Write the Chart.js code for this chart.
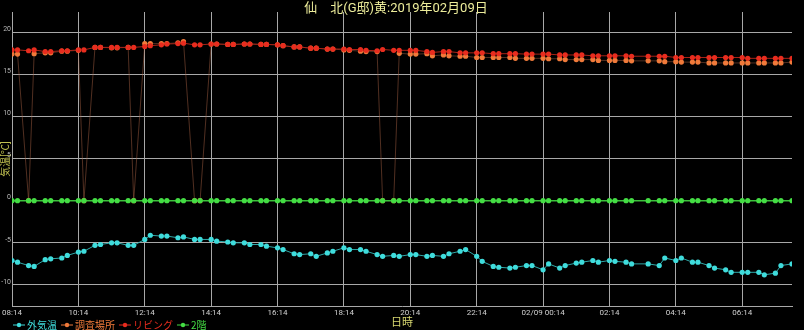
<!DOCTYPE html>
<html>
<head>
<meta charset="utf-8">
<script src="https://cdn.jsdelivr.net/npm/chart.js@4/dist/chart.umd.min.js"></script>
<style>
    html, body { margin: 0; padding: 0; background: #000; }
    #wrap { width: 804px; height: 330px; }
</style>
</head>
<body>
<div id="wrap"><canvas id="tempChart"></canvas></div>
<script>
// Measurement times (03:14 has no record)
const times = [
    '08:14','08:24','08:44','08:54', '09:14','09:24','09:44','09:54',
    '10:14','10:24','10:44','10:54', '11:14','11:24','11:44','11:54',
    '12:14','12:24','12:44','12:54', '13:14','13:24','13:44','13:54',
    '14:14','14:24','14:44','14:54', '15:14','15:24','15:44','15:54',
    '16:14','16:24','16:44','16:54', '17:14','17:24','17:44','17:54',
    '18:14','18:24','18:44','18:54', '19:14','19:24','19:44','19:54',
    '20:14','20:24','20:44','20:54', '21:14','21:24','21:44','21:54',
    '22:14','22:24','22:44','22:54', '23:14','23:24','23:44','23:54',
    '00:14','00:24','00:44','00:54', '01:14','01:24','01:44','01:54',
    '02:14','02:24','02:44','02:54', '03:24','03:44','03:54',
    '04:14','04:24','04:44','04:54', '05:14','05:24','05:44','05:54',
    '06:14','06:24','06:44','06:54', '07:14','07:24','07:44'
];

const outsideTemp = [
    -7.1,-7.3,-7.7,-7.8, -7.0,-6.9,-6.8,-6.5,
    -6.1,-6.0,-5.3,-5.2, -5.0,-5.0,-5.3,-5.3,
    -4.6,-4.1,-4.2,-4.2, -4.4,-4.3,-4.6,-4.6,
    -4.6,-4.8,-4.9,-5.0, -5.0,-5.2,-5.2,-5.4,
    -5.6,-5.8,-6.3,-6.4, -6.3,-6.6,-6.2,-6.0,
    -5.6,-5.8,-5.8,-6.0, -6.4,-6.6,-6.5,-6.6,
    -6.4,-6.4,-6.6,-6.5, -6.6,-6.3,-6.0,-5.8,
    -6.6,-7.2,-7.8,-7.9, -8.0,-7.9,-7.7,-7.7,
    -8.2,-7.5,-8.0,-7.7, -7.4,-7.3,-7.1,-7.3,
    -7.1,-7.2,-7.3,-7.5, -7.5,-7.7,-6.8,
    -7.1,-6.8,-7.3,-7.3, -7.7,-8.0,-8.2,-8.5,
    -8.5,-8.5,-8.5,-8.8, -8.6,-7.7,-7.5
];

const surveyTemp = [
    17.4,17.4,0,17.45, 17.55,17.55,17.75,17.75,
    17.85,0,18.2,18.2, 18.15,18.15,18.2,0,
    18.65,18.65,18.65,18.65, 18.75,18.9,0,0,
    18.6,18.6,18.55,18.55, 18.6,18.6,18.55,18.55,
    18.5,18.4,18.25,18.25, 18.1,18.1,18.0,18.0,
    17.9,17.85,17.75,17.7, 17.7,0,0,17.5,
    17.4,17.4,17.45,17.2, 17.3,17.2,17.15,17.15,
    17.0,17.0,17.0,17.0, 17.0,16.9,16.9,16.9,
    16.9,16.85,16.85,16.75, 16.75,16.75,16.75,16.65,
    16.65,16.65,16.65,16.6, 16.6,16.6,16.5,
    16.5,16.45,16.45,16.45, 16.35,16.35,16.35,16.35,
    16.35,16.35,16.35,16.35, 16.35,16.35,16.45
];

const livingTemp = [
    17.9,17.9,17.8,17.9, 17.7,17.7,17.8,17.8,
    17.9,17.9,18.2,18.2, 18.2,18.2,18.2,18.2,
    18.3,18.4,18.5,18.6, 18.65,18.7,18.5,18.5,
    18.6,18.6,18.55,18.55, 18.6,18.6,18.55,18.55,
    18.5,18.4,18.25,18.25, 18.1,18.1,18.0,18.0,
    18.0,17.95,17.95,17.85, 17.8,17.95,17.85,17.85,
    17.85,17.85,17.7,17.6, 17.7,17.7,17.55,17.55,
    17.55,17.55,17.45,17.45, 17.45,17.45,17.4,17.4,
    17.4,17.4,17.3,17.3, 17.3,17.3,17.2,17.2,
    17.2,17.2,17.2,17.15, 17.15,17.15,17.15,
    17.0,17.0,17.0,17.0, 17.0,17.0,17.0,17.0,
    17.0,16.9,16.9,16.9, 16.9,16.9,16.9
];

const floor2Temp = [
    0,0,0,0, 0,0,0,0, 0,0,0,0, 0,0,0,0,
    0,0,0,0, 0,0,0,0, 0,0,0,0, 0,0,0,0,
    0,0,0,0, 0,0,0,0, 0,0,0,0, 0,0,0,0,
    0,0,0,0, 0,0,0,0, 0,0,0,0, 0,0,0,0,
    0,0,0,0, 0,0,0,0, 0,0,0,0, 0,0,0,
    0,0,0,0, 0,0,0,0, 0,0,0,0, 0,0,0
];

const xTickLabels = ['08:14','10:14','12:14','14:14','16:14','18:14','20:14','22:14','02/09 00:14','02:14','04:14','06:14'];
const yTickValues = [-10, -5, 0, 5, 10, 15, 20];

const START_MIN = 8 * 60 + 14;

// minutes since 08:14, wrapping past midnight
function toMinutes(t) {
    const [h, m] = t.split(':').map(Number);
    let mins = h * 60 + m - START_MIN;
    if (mins < 0) mins += 1440;
    return mins;
}

function toPoints(values) {
    return times.map((t, i) => ({ x: toMinutes(t), y: values[i] }));
}

const FONT = "Roboto, 'Noto Sans CJK JP', sans-serif";
const GRID = '#a8a8a8';

// legend drawn on the bottom line, next to the axis title
const bottomLegend = {
    id: 'bottomLegend',
    afterDraw(chart) {
        const ctx = chart.ctx;
        ctx.save();
        ctx.font = "10px 'Noto Sans CJK JP', sans-serif";
        ctx.textBaseline = 'middle';
        let x = 13;
        const y = 325;
        chart.data.datasets.forEach(ds => {
            ctx.strokeStyle = ds.pointBackgroundColor;
            ctx.lineWidth = 1;
            ctx.beginPath();
            ctx.moveTo(x, y);
            ctx.lineTo(x + 12, y);
            ctx.stroke();
            ctx.fillStyle = ds.pointBackgroundColor;
            ctx.beginPath();
            ctx.arc(x + 6, y, 2.2, 0, Math.PI * 2);
            ctx.fill();
            x += 14;
            ctx.fillText(ds.label, x, y);
            x += ctx.measureText(ds.label).width + 4;
        });
        ctx.restore();
    }
};

document.addEventListener('DOMContentLoaded', function() {
    const ctx = document.getElementById('tempChart').getContext('2d');
    new Chart(ctx, {
        type: 'line',
        data: {
            datasets: [{
                label: '外気温',
                data: toPoints(outsideTemp),
                borderColor: '#2fa8a8',
                borderWidth: 1,
                pointBackgroundColor: '#3fdcdc',
                pointBorderWidth: 0,
                pointRadius: 2.6,
                order: 3
            }, {
                label: '調査場所',
                data: toPoints(surveyTemp),
                borderColor: 'rgba(170, 100, 70, 0.6)',
                borderWidth: 0.8,
                pointBackgroundColor: '#f07a3a',
                pointBorderWidth: 0,
                pointRadius: 2.6,
                order: 2
            }, {
                label: 'リビング',
                data: toPoints(livingTemp),
                borderColor: '#a82418',
                borderWidth: 1,
                pointBackgroundColor: '#e82c1e',
                pointBorderWidth: 0,
                pointRadius: 2.6,
                order: 1
            }, {
                label: '2階',
                data: toPoints(floor2Temp),
                borderColor: '#3cc03c',
                borderWidth: 1.5,
                pointBackgroundColor: '#44dd44',
                pointBorderWidth: 0,
                pointRadius: 2.6,
                order: 0
            }]
        },
        options: {
            responsive: true,
            maintainAspectRatio: false,
            animation: false,
            layout: { padding: { right: 12 } },
            plugins: {
                legend: { display: false },
                tooltip: { enabled: false },
                title: {
                    display: true,
                    text: '仙　北(G邸)黄:2019年02月09日',
                    color: '#ecec9a',
                    font: { family: FONT, size: 13, weight: 'normal', lineHeight: 1 },
                    padding: { top: 2, bottom: -3 }
                }
            },
            scales: {
                x: {
                    type: 'linear',
                    min: 0,
                    max: toMinutes(times[times.length - 1]),
                    afterBuildTicks: scale => {
                        scale.ticks = xTickLabels.map(l => ({ value: toMinutes(l.slice(-5)) }));
                    },
                    afterFit: scale => { scale.height = 24; },
                    ticks: {
                        callback: (value, index) => xTickLabels[index],
                        color: '#d0d0d0',
                        font: { family: FONT, size: 8 },
                        padding: 2,
                        maxRotation: 0,
                        autoSkip: false
                    },
                    grid: { color: GRID, drawTicks: false },
                    border: { display: true, color: GRID },
                    title: {
                        display: true,
                        text: '日時',
                        color: '#d8d870',
                        font: { family: FONT, size: 11 },
                        padding: 0
                    }
                },
                y: {
                    min: -12.5,
                    max: 22.4,
                    afterBuildTicks: scale => {
                        scale.ticks = yTickValues.map(v => ({ value: v }));
                    },
                    afterFit: scale => { scale.width = 12; },
                    ticks: {
                        color: '#b8b8b8',
                        font: { family: FONT, size: 7 },
                        padding: 1,
                        labelOffset: -3
                    },
                    grid: { color: GRID, drawTicks: false },
                    border: { display: false },
                    title: {
                        display: true,
                        text: '気温[℃]',
                        color: '#c0c050',
                        font: { family: FONT, size: 10 },
                        padding: { top: 0, bottom: 0 }
                    }
                }
            }
        },
        plugins: [bottomLegend]
    });
});
</script>
</body>
</html>
